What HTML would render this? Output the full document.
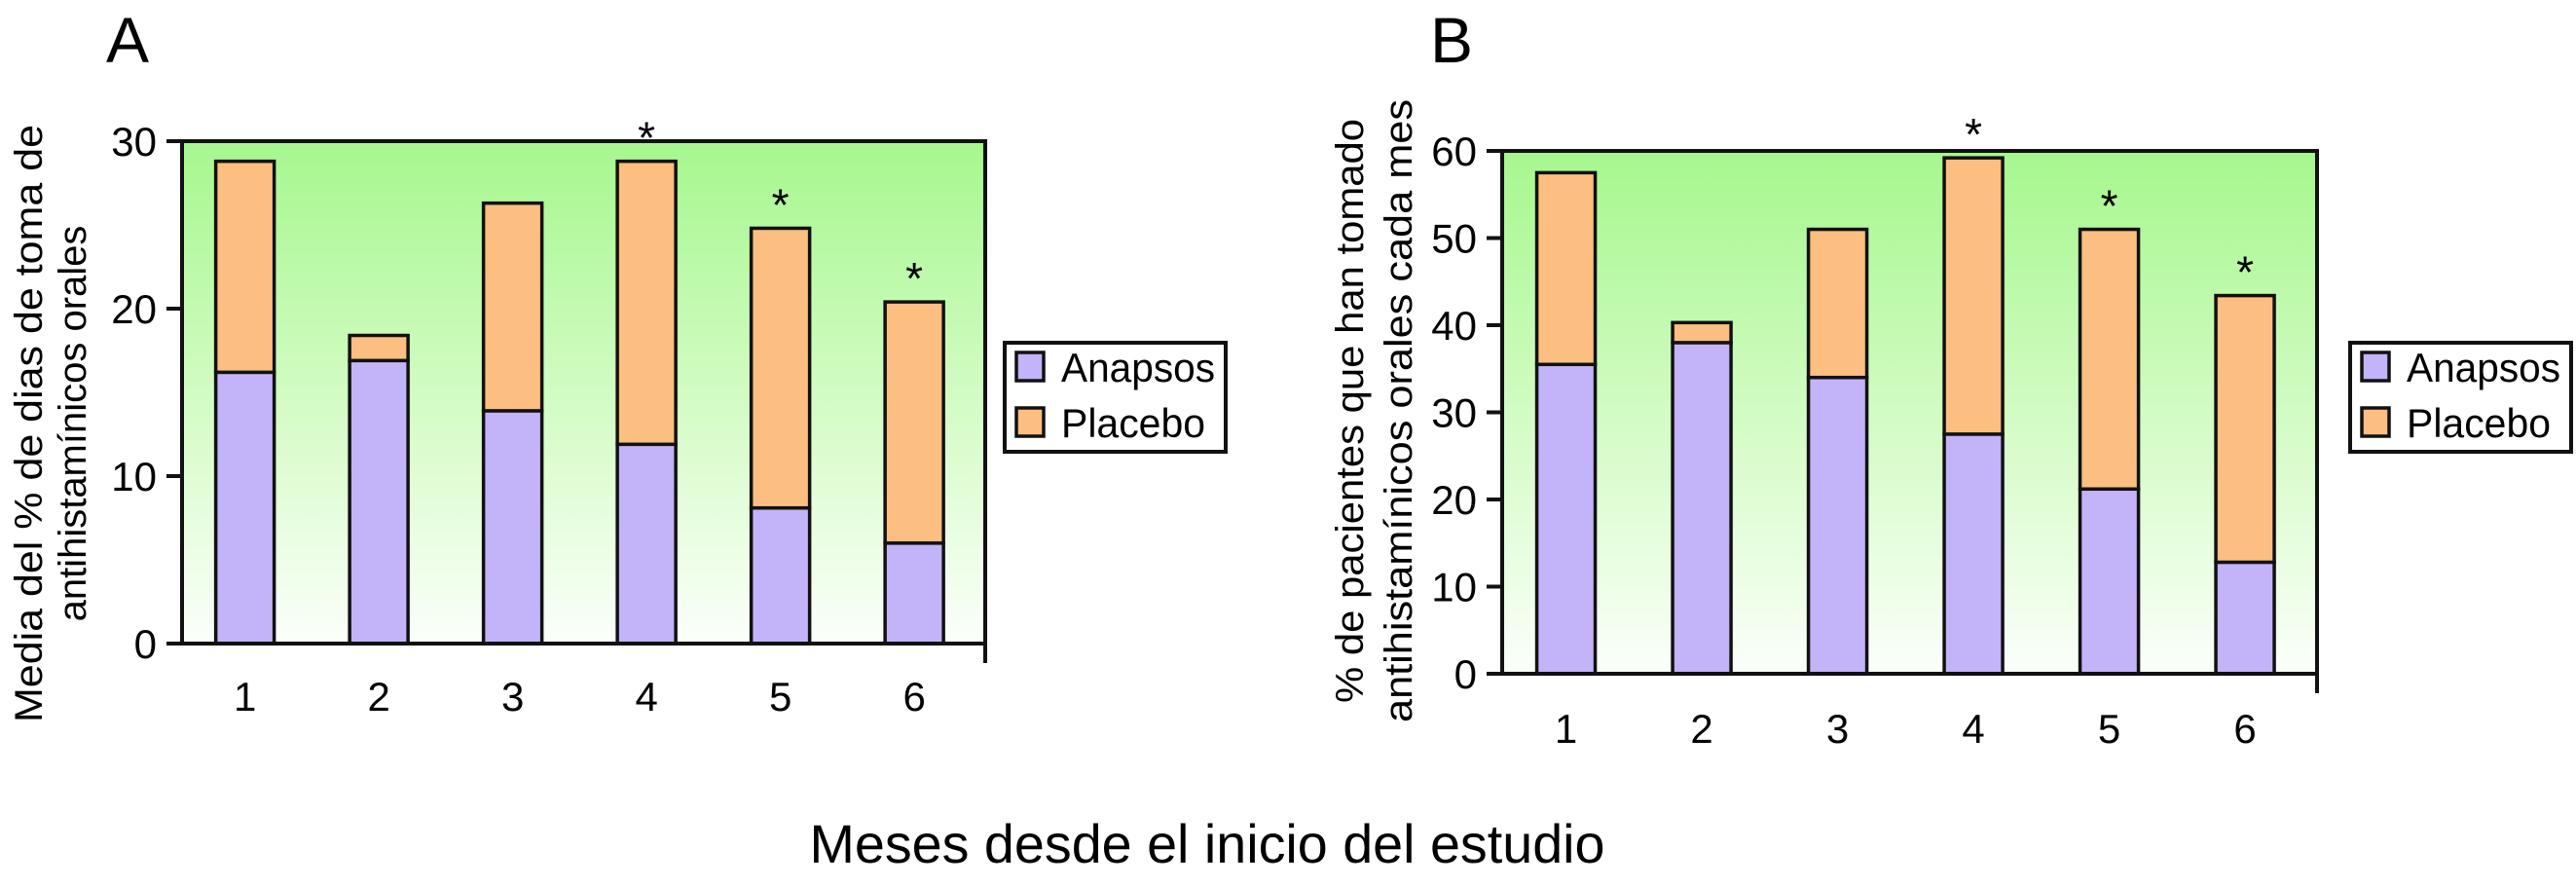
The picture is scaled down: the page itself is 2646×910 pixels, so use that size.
<!DOCTYPE html>
<html><head><meta charset="utf-8">
<style>
html,body{margin:0;padding:0;background:#fff;}
svg{display:block;font-family:"Liberation Sans",Arial,sans-serif;}
</style></head>
<body>
<svg id="chart" width="2646" height="910" viewBox="0 0 2646 910" xmlns="http://www.w3.org/2000/svg">
<defs>
<linearGradient id="bg" x1="0" y1="0" x2="0" y2="1">
<stop offset="0" stop-color="#a6f78e"/>
<stop offset="0.55" stop-color="#d6fcc8"/>
<stop offset="1" stop-color="#fbfffa"/>
</linearGradient>
</defs>
<text x="109" y="64" font-size="66">A</text>
<text x="1469" y="64" font-size="66">B</text>
<text x="1240" y="886" font-size="56" text-anchor="middle" textLength="817" lengthAdjust="spacingAndGlyphs">Meses desde el inicio del estudio</text>
<g transform="translate(43,435) rotate(-90)">
<text x="0" y="0" font-size="40" text-anchor="middle" textLength="614" lengthAdjust="spacingAndGlyphs">Media del % de dias de toma de</text>
<text x="0" y="45" font-size="40" text-anchor="middle">antihistamínicos orales</text>
</g>
<g transform="translate(1400,422) rotate(-90)">
<text x="0" y="0" font-size="40" text-anchor="middle" textLength="600" lengthAdjust="spacingAndGlyphs">% de pacientes que han tomado</text>
<text x="0" y="50" font-size="40" text-anchor="middle" textLength="640" lengthAdjust="spacingAndGlyphs">antihistamínicos orales cada mes</text>
</g>
<g id="plots"></g>
</svg>
<script>
const categories = ["1","2","3","4","5","6"];
const anapsosA = [16.2, 16.9, 13.9, 11.9, 8.1, 6.0];
const totalA = [28.8, 18.4, 26.3, 28.8, 24.8, 20.4];
const ticksA = [0, 10, 20, 30];
const anapsosB = [35.5, 38.0, 34.0, 27.5, 21.2, 12.8];
const totalB = [57.5, 40.3, 51.0, 59.2, 51.0, 43.4];
const ticksB = [0, 10, 20, 30, 40, 50, 60];
const starsA = [false, false, false, true, true, true];
const starsB = [false, false, false, true, true, true];
const seriesNames = ["Anapsos", "Placebo"];

const NS = "http://www.w3.org/2000/svg";
const root = document.getElementById("plots");
function mk(tag, attrs, parent) {
  const e = document.createElementNS(NS, tag);
  for (const k in attrs) e.setAttribute(k, attrs[k]);
  (parent || root).appendChild(e);
  return e;
}
function panel(p, cfg, anap, tot, ticks, stars) {
  const g = mk("g", {});
  
  
  const L = cfg.left, R = cfg.right, T = cfg.top, B = cfg.bottom, maxV = ticks[ticks.length - 1];
  const y = v => B - (v / maxV) * (B - T);
  const step = (R - L) / categories.length;
  const x = i => L + step * (i + 0.47);
  const bw = 60;
  const bg = mk("rect", {x: L, y: T, width: R - L, height: B - T, fill: "url(#bg)"}, g);
  
  
  categories.forEach((c, i) => {
    const a = mk("rect", {x: x(i) - bw / 2, y: y(anap[i]), width: bw, height: y(0) - y(anap[i]), fill: "#c3b3f9", stroke: "#111", "stroke-width": 3.5}, g);
    
    
    const pl = mk("rect", {x: x(i) - bw / 2, y: y(tot[i]), width: bw, height: y(anap[i]) - y(tot[i]), fill: "#fcbe81", stroke: "#111", "stroke-width": 3.5}, g);
    
    
    const lbl = mk("text", {x: x(i), y: cfg.xlab, "font-size": 42, "text-anchor": "middle"}, g);
    lbl.textContent = c;
    
    
    if (stars[i]) {
      const s = mk("text", {x: x(i), y: y(tot[i]) - 8, "font-size": 46, "text-anchor": "middle"}, g);
      s.textContent = "*";
      
      
    }
  });
  const fr = mk("path", {d: `M${L} ${B} L${L} ${T} L${R} ${T} L${R} ${B + 20}`, fill: "none", stroke: "#111", "stroke-width": 4}, g);
  
  
  const xa = mk("line", {x1: L - 16, y1: B, x2: R, y2: B, stroke: "#111", "stroke-width": 4}, g);
  
  
  ticks.forEach(t => {
    const tk = mk("line", {x1: L - 16, y1: y(t), x2: L, y2: y(t), stroke: "#111", "stroke-width": 4}, g);
    
    
    const tl = mk("text", {x: L - 26, y: y(t) + 15, "font-size": 42, "text-anchor": "end"}, g);
    tl.textContent = t;
    
    
  });
  const lx = cfg.legX, ly = 352;
  const lg = mk("g", {}, g);
  
  
  mk("rect", {x: lx, y: ly, width: 227, height: 112, fill: "#fff", stroke: "#111", "stroke-width": 4}, lg);
  const cols = ["#c3b3f9", "#fcbe81"];
  seriesNames.forEach((n, k) => {
    const e = mk("g", {}, lg);
    
    
    mk("rect", {x: lx + 12, y: ly + 10 + k * 57, width: 28, height: 29, fill: cols[k], stroke: "#111", "stroke-width": 3.5}, e);
    const t = mk("text", {x: lx + 58, y: ly + 40 + k * 57, "font-size": 42, textLength: n.length === 7 && k === 0 ? 158 : 148, lengthAdjust: "spacingAndGlyphs"}, e);
    t.textContent = n;
  });
}
panel("a", {left: 187, right: 1012, top: 145, bottom: 661, xlab: 730, legX: 1032}, anapsosA, totalA, ticksA, starsA);
panel("b", {left: 1543, right: 2380, top: 155, bottom: 692, xlab: 763, legX: 2414}, anapsosB, totalB, ticksB, starsB);
</script>
</body></html>
